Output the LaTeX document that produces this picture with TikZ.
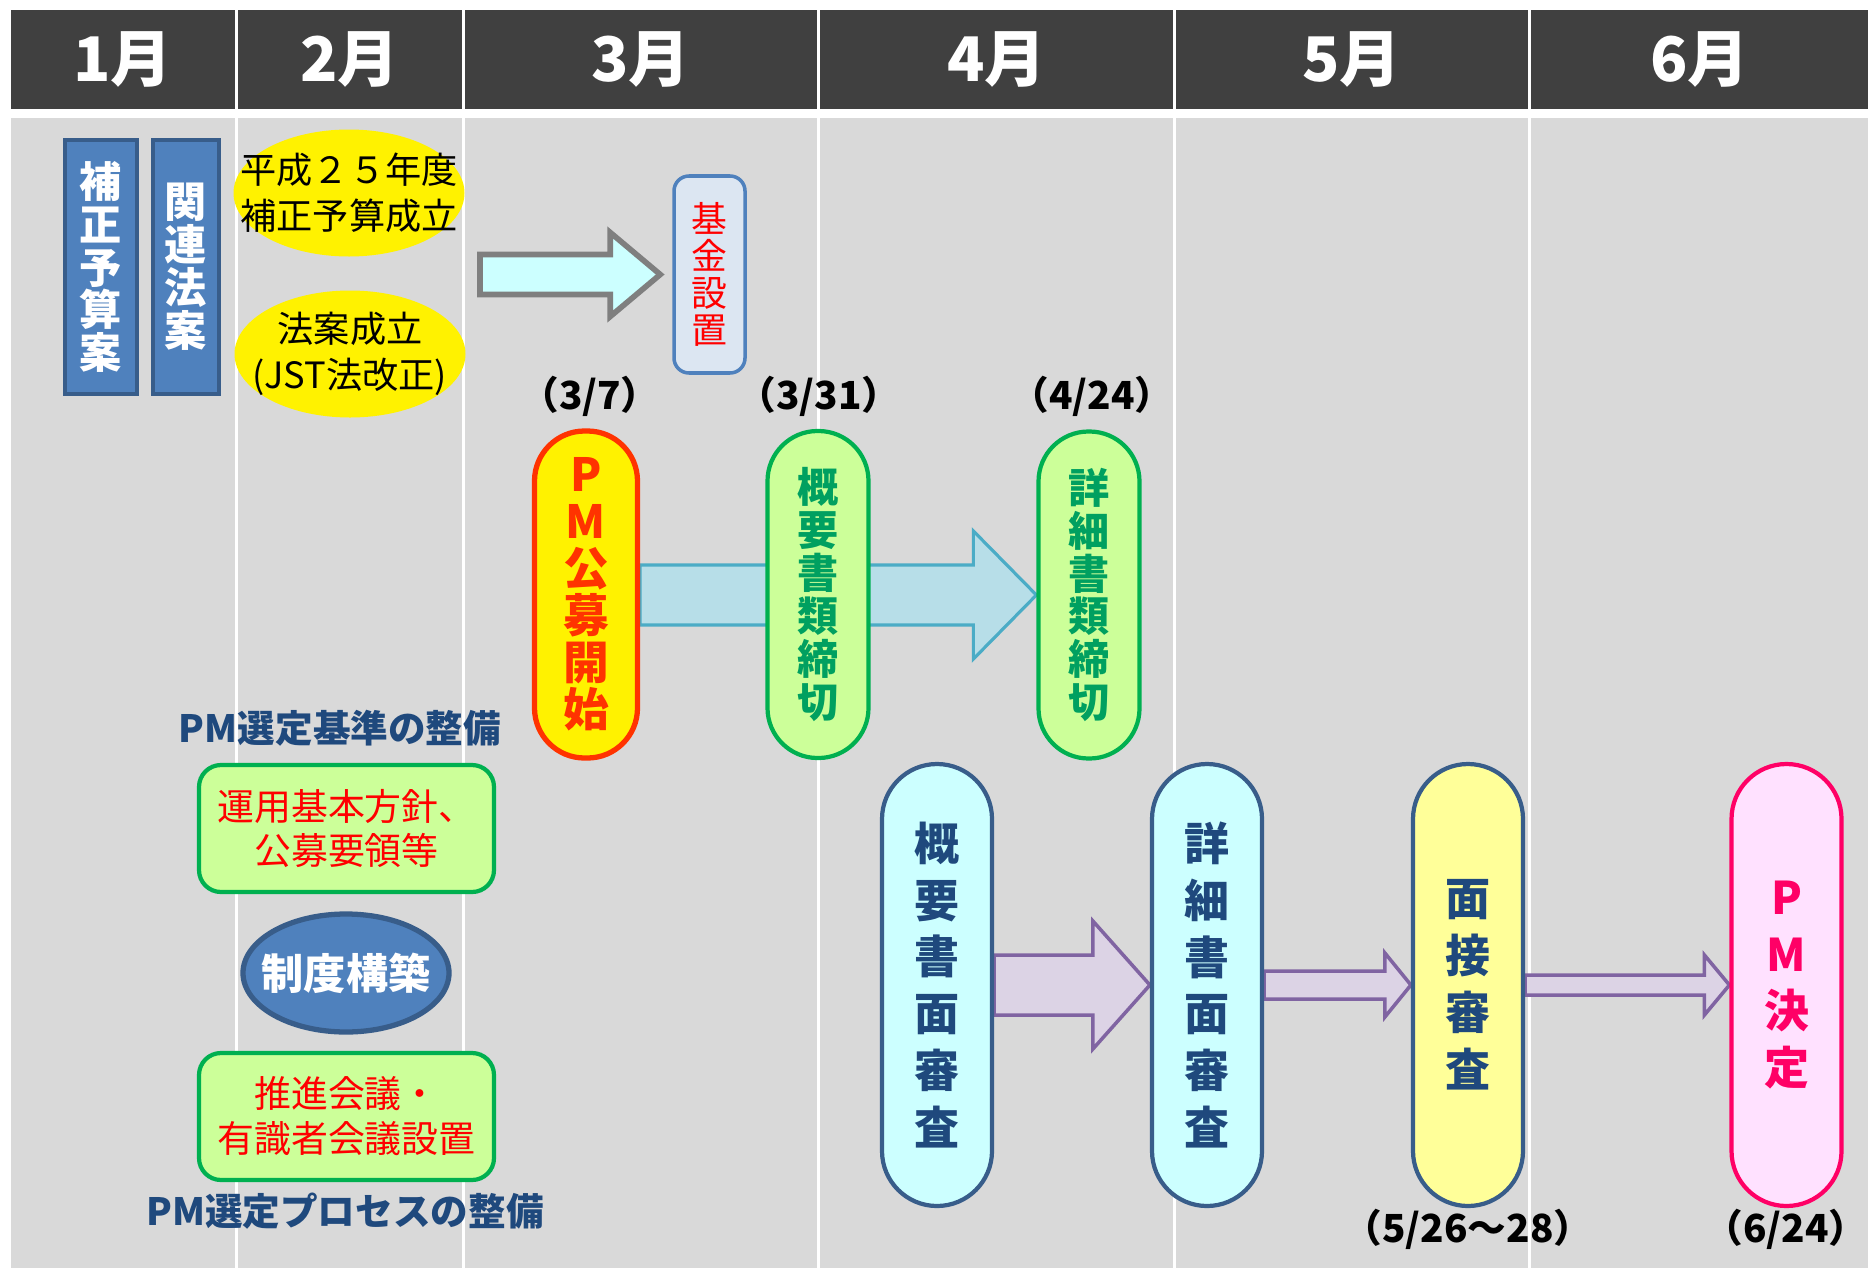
\documentclass[tikz,border=0pt]{standalone}
\usepackage{fontspec}
\setmainfont{Noto Sans CJK JP}
\usetikzlibrary{shapes.geometric,calc}
\pgfdeclarelayer{back}
\pgfdeclarelayer{mid}
\pgfsetlayers{back,mid,main}

\definecolor{headgray}{HTML}{404040}
\definecolor{panelgray}{HTML}{D9D9D9}
\definecolor{billblue}{HTML}{4F81BD}
\definecolor{billedge}{HTML}{385D8A}
\definecolor{fundfill}{HTML}{DCE6F2}
\definecolor{lightcyan}{HTML}{CCFFFF}
\definecolor{arrowgray}{HTML}{7F7F7F}
\definecolor{pmred}{HTML}{FF3300}
\definecolor{okgreen}{HTML}{00B050}
\definecolor{okgreentext}{HTML}{00A060}
\definecolor{lightgreen}{HTML}{CCFF99}
\definecolor{skyfill}{HTML}{B7DEE8}
\definecolor{skyedge}{HTML}{4BACC6}
\definecolor{navytext}{HTML}{1F497D}
\definecolor{paleyellow}{HTML}{FFFF99}
\definecolor{pmpink}{HTML}{FF0066}
\definecolor{palepink}{HTML}{FFE1FF}
\definecolor{lilacfill}{HTML}{DCD3E5}
\definecolor{lilacedge}{HTML}{8064A2}

\newcommand{\fsz}[2]{\fontsize{#1}{#2}\selectfont}
% block arrow: style, from, to, shaft half width, head half width, head length
\newcommand{\fatarrow}[6]{%
  \draw[#1] let \p1=(#2), \p2=(#3) in
    (\x1,\y2+#4) -- (\x2-#6,\y2+#4) -- (\x2-#6,\y2+#5) -- (\x2,\y2)
    -- (\x2-#6,\y2-#5) -- (\x2-#6,\y2-#4) -- (\x1,\y2-#4) -- cycle;}

\tikzset{
  monthlbl/.style={text=white,font=\bfseries\fsz{17.5}{20}},
  bill/.style={draw=billedge,fill=billblue,line width=1pt,minimum height=2.54cm,
    inner sep=0pt,align=center,text=white,font=\bfseries\fsz{12}{12.2}},
  oval/.style={ellipse,fill=yellow,minimum width=2.31cm,minimum height=1.27cm,
    inner xsep=-2.9mm,inner ysep=0pt,align=center,font=\fsz{10.3}{13}},
  fundbox/.style={draw=billblue,fill=fundfill,line width=1pt,rounded corners=1.5mm,
    minimum width=0.71cm,minimum height=1.97cm,inner sep=0pt,align=center,
    text=red,font=\fsz{10.2}{10.5}},
  datelbl/.style={font=\bfseries\fsz{11}{12}},
  deadline/.style={draw=okgreen,fill=lightgreen,line width=1.2pt,rounded corners=5mm,
    minimum width=1.01cm,minimum height=3.27cm,inner sep=0pt,align=center,
    text=okgreentext,font=\bfseries\fsz{11.7}{12.2}},
  review/.style={draw=billedge,fill=lightcyan,line width=1.2pt,rounded corners=5.5mm,
    minimum width=1.10cm,minimum height=4.42cm,inner sep=0pt,align=center,
    text=navytext,font=\bfseries\fsz{12.8}{16.2}},
  greenbox/.style={draw=okgreen,fill=lightgreen,line width=1.2pt,rounded corners=2.2mm,
    minimum width=2.95cm,minimum height=1.27cm,inner sep=0pt,align=center,
    text=red,font=\fsz{10.5}{12.8}},
  heading/.style={text=navytext,font=\bfseries\fsz{10.7}{12}},
  lilac/.style={fill=lilacfill,draw=lilacedge,line width=1pt}
}

\begin{document}
\begin{tikzpicture}
    \useasboundingbox (0,0) rectangle (18.68,-12.70);

    % month columns
    \begin{pgfonlayer}{back}
    \foreach \a/\b/\m [count=\i] in {0.11/2.35/1月,2.38/4.62/2月,4.65/8.17/3月,8.20/11.73/4月,11.76/15.28/5月,15.31/18.68/6月}{
        \fill[headgray] (\a,-0.10) rectangle (\b,-1.09);
        \fill[panelgray] (\a,-1.18) rectangle (\b,-12.68);
        \node[monthlbl] (M\i) at ({(\a+\b)/2},-0.595) {\m};
    }
    \end{pgfonlayer}

    \node[bill,minimum width=0.72cm] (B1) at (1.01,-2.67) {補\\正\\予\\算\\案};
    \node[bill,minimum width=0.66cm] (B2) at (1.86,-2.67) {関\\連\\法\\案};
    \node[oval] (O1) at (3.49,-1.93) {平成２５年度\\補正予算成立};
    \node[oval] (O2) at (3.50,-3.54) {法案成立\\(JST法改正)};
    \node[fundbox] (K) at (7.095,-2.745) {基\\金\\設\\置};
    \coordinate (T) at (4.80,-2.74);

    \node[datelbl] (D1) at (5.90,-3.96) {（3/7）};
    \node[datelbl] (D2) at (8.19,-3.96) {（3/31）};
    \node[datelbl] (D3) at (10.92,-3.96) {（4/24）};
    \node[deadline,draw=pmred,fill=yellow,text=pmred,line width=1.5pt,
        minimum width=1.03cm,font=\bfseries\fsz{13}{13.4}] (PM) at (5.86,-5.945) {P\\M\\公\\募\\開\\始};
    \node[deadline] (GS) at (8.18,-5.945) {概\\要\\書\\類\\締\\切};
    \node[deadline] (SS) at (10.89,-5.95) {詳\\細\\書\\類\\締\\切};

    \node[heading] (H1) at (3.40,-7.28) {PM選定基準の整備};
    \node[greenbox] (G1) at (3.465,-8.285) {運用基本方針、\\公募要領等};
    \node[ellipse,draw=billedge,fill=billblue,line width=1.5pt,minimum width=2.06cm,
        minimum height=1.18cm,inner xsep=-1.3mm,inner ysep=0pt,text=white,
        font=\bfseries\fsz{12}{12}] (SK) at (3.46,-9.73) {制度構築};
    \node[greenbox] (G2) at (3.465,-11.165) {推進会議・\\有識者会議設置};
    \node[heading] (H2) at (3.45,-12.11) {PM選定プロセスの整備};

    \node[review] (R1) at (9.37,-9.85) {概\\要\\書\\面\\審\\査};
    \node[review] (R2) at (12.07,-9.85) {詳\\細\\書\\面\\審\\査};
    \node[review,fill=paleyellow] (R3) at (14.68,-9.85) {面\\接\\審\\査};
    \node[review,draw=pmpink,fill=palepink,text=pmpink] (R4) at (17.865,-9.85) {P\\M\\決\\定};
    \node[datelbl] (D4) at (14.68,-12.29) {（5/26～28）};
    \node[datelbl] (D5) at (17.86,-12.29) {（6/24）};

    \begin{pgfonlayer}{mid}
    \fatarrow{fill=lightcyan,draw=arrowgray,line width=1.6pt}{T}{[xshift=-1.2mm]K.west}{2mm}{4.2mm}{5mm}
    \fatarrow{fill=skyfill,draw=skyedge,line width=0.9pt}{PM.east}{SS.west}{3mm}{6.4mm}{6.3mm}
    \fatarrow{lilac}{R1.east}{R2.west}{3mm}{6.4mm}{5.7mm}
    \fatarrow{lilac}{R2.east}{R3.west}{1.4mm}{3.2mm}{2.6mm}
    \fatarrow{lilac}{R3.east}{R4.west}{1mm}{3mm}{2.5mm}
    \end{pgfonlayer}
\end{tikzpicture}
\end{document}
